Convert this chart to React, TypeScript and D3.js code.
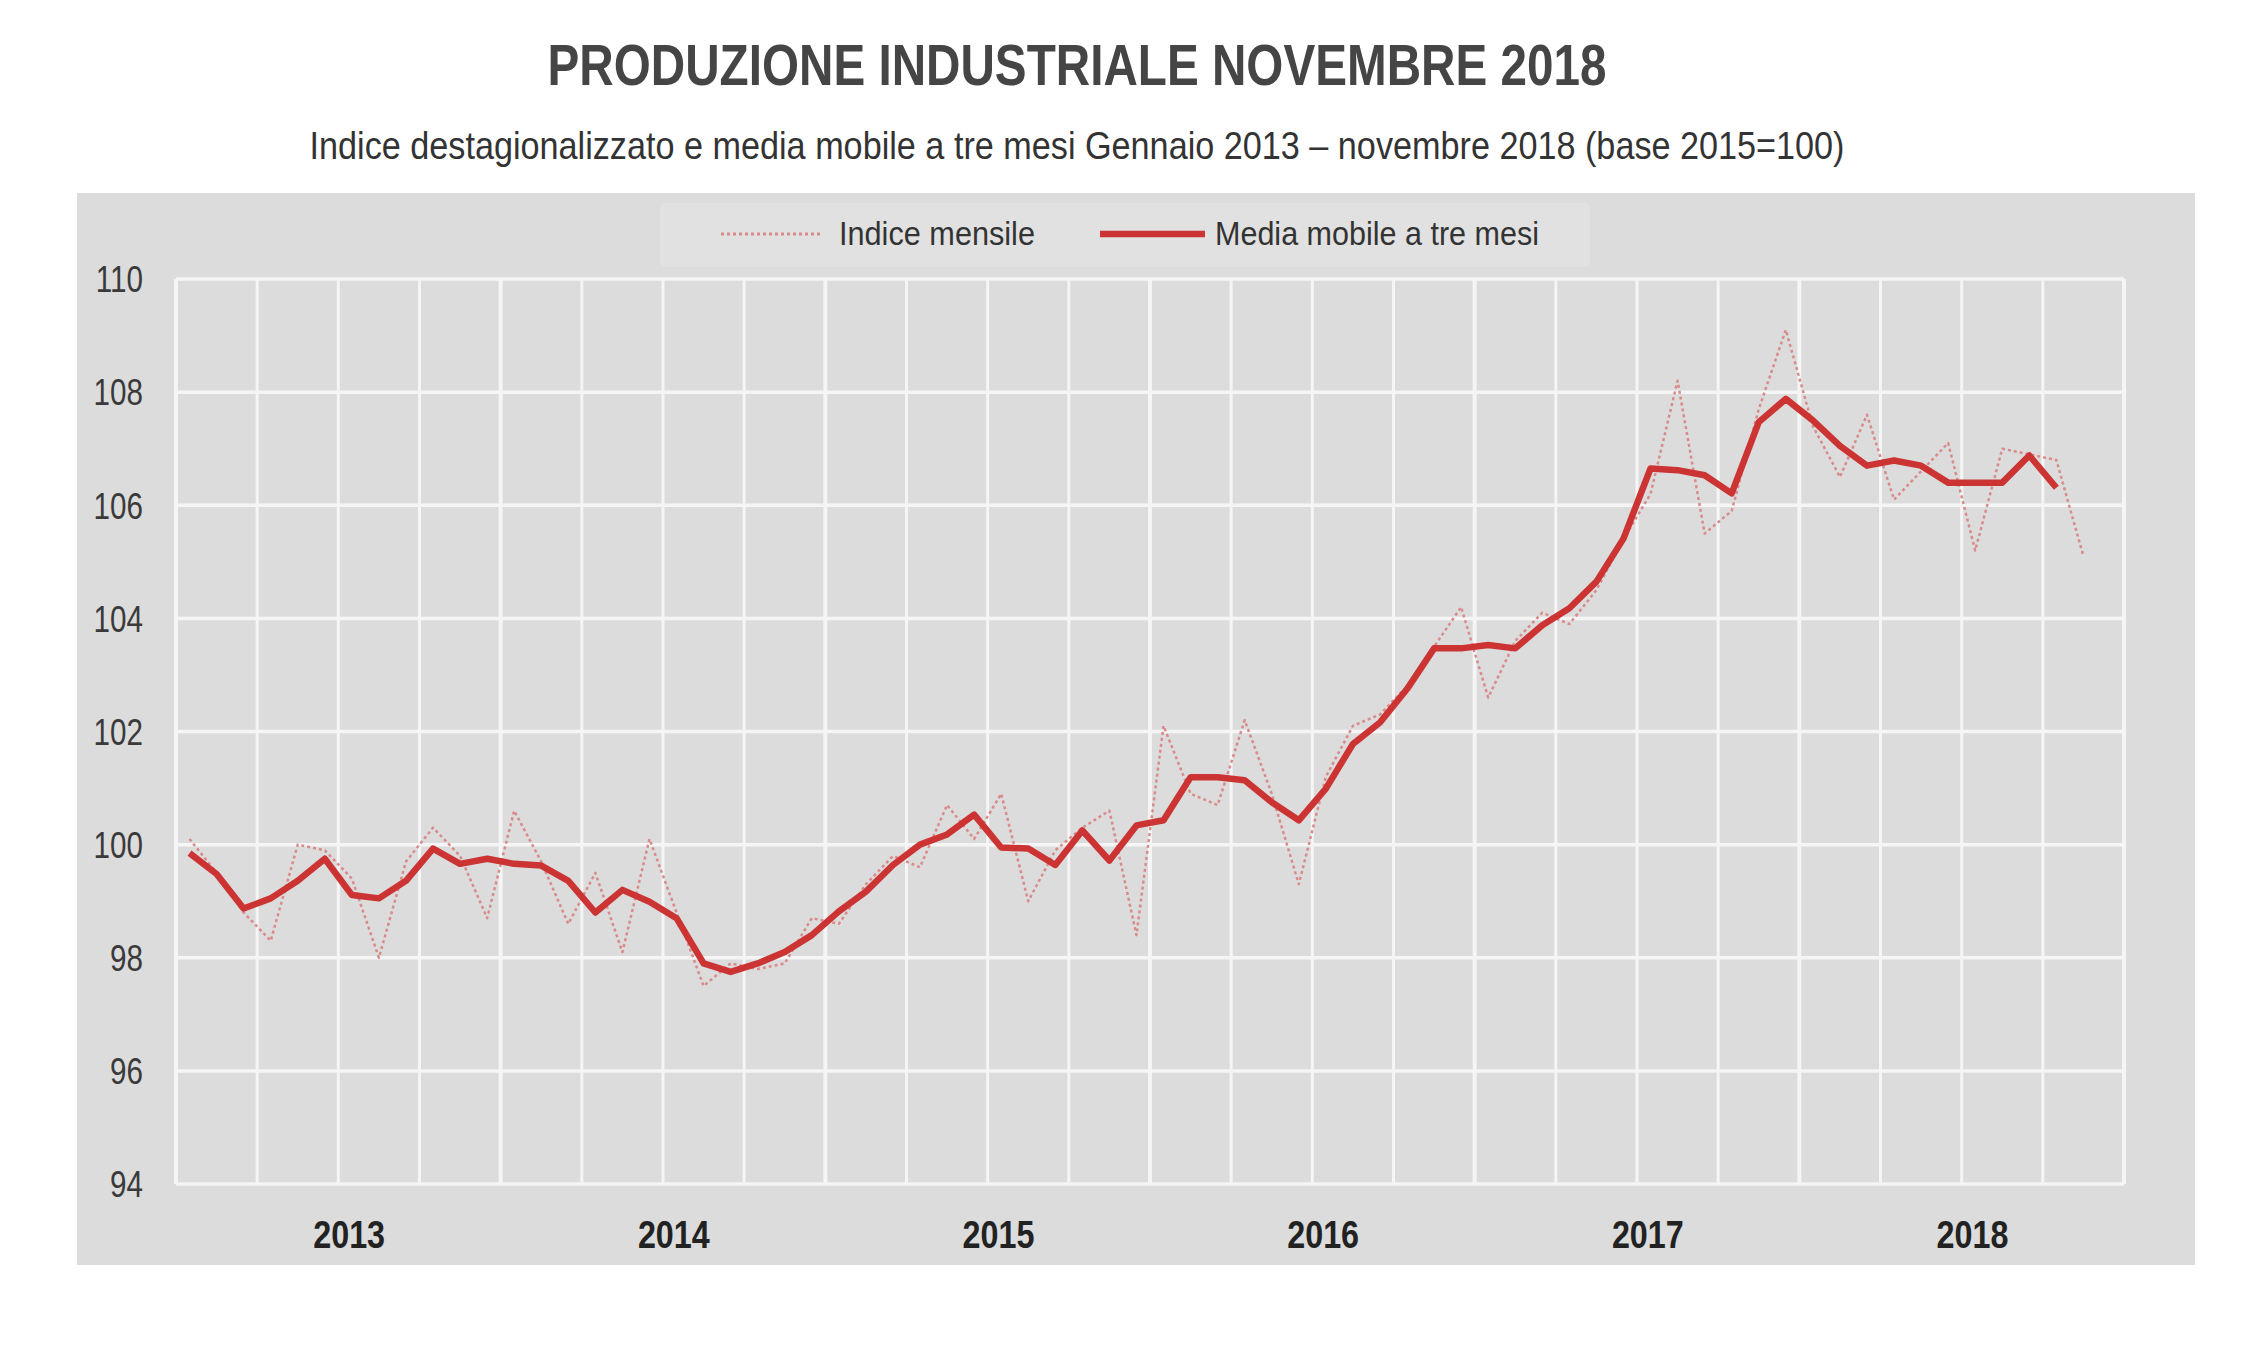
import * as d3 from 'd3';

// Indice destagionalizzato, gen 2013 - nov 2018 (base 2015=100)
const indiceMensile = [
  100.1, 99.5, 98.8, 98.3, 100.0, 99.9, 99.4, 98.0, 99.7, 100.3, 99.8, 98.7,
  100.6, 99.7, 98.6, 99.5, 98.1, 100.1, 98.8, 97.5, 97.9, 97.8, 97.9, 98.7,
  98.6, 99.3, 99.8, 99.6, 100.7, 100.1, 100.9, 99.0, 99.9, 100.3, 100.6, 98.4,
  102.1, 100.9, 100.7, 102.2, 100.9, 99.3, 101.2, 102.1, 102.3, 102.8, 103.5, 104.2,
  102.6, 103.6, 104.1, 103.9, 104.5, 105.4, 106.2, 108.2, 105.5, 105.9, 107.7, 109.1,
  107.4, 106.5, 107.6, 106.1, 106.6, 107.1, 105.2, 107.0, 106.9, 106.8, 105.1,
];

// Media mobile a tre mesi, gen 2013 - ott 2018
const mediaMobile = [
  99.85, 99.48, 98.87, 99.05, 99.36, 99.75, 99.11, 99.05, 99.36, 99.93, 99.66, 99.75,
  99.66, 99.63, 99.36, 98.8, 99.2, 98.99, 98.7, 97.9, 97.75, 97.9, 98.1, 98.4,
  98.82, 99.17, 99.64, 100.0, 100.18, 100.53, 99.95, 99.93, 99.64, 100.25, 99.72, 100.34,
  100.43, 101.19, 101.19, 101.14, 100.75, 100.43, 100.99, 101.78, 102.16, 102.75, 103.47, 103.47,
  103.53, 103.47, 103.88, 104.18, 104.65, 105.41, 106.65, 106.62, 106.53, 106.21, 107.47, 107.88,
  107.5, 107.05, 106.7, 106.79, 106.7, 106.4, 106.4, 106.4, 106.88, 106.31,
];

const years = ['2013', '2014', '2015', '2016', '2017', '2018'];
const yTicks = [94, 96, 98, 100, 102, 104, 106, 108, 110];
const legendLabels = ['Indice mensile', 'Media mobile a tre mesi'];
const title = 'PRODUZIONE INDUSTRIALE NOVEMBRE 2018';
const subtitle =
  'Indice destagionalizzato e media mobile a tre mesi Gennaio 2013 \u2013 novembre 2018 (base 2015=100)';

const W = 2260;
const H = 1364;
const PLOT = { left: 176, right: 2124, top: 279, bottom: 1184 };
const FONT = '"Liberation Sans Narrow", "Liberation Sans", Arial, sans-serif';
const RED = '#cc3434';
const PINK = '#d98a8a';
const TEXT = '#333333';

export default function App() {
  const months = years.length * 12;
  const x = d3.scaleLinear().domain([0, months]).range([PLOT.left, PLOT.right]);
  const y = d3.scaleLinear().domain([94, 110]).range([PLOT.bottom, PLOT.top]);

  const line = d3
    .line<number>()
    .x((_d, i) => x(i + 0.5))
    .y((d) => y(d));

  const quarters = d3.range(0, months + 1, 3);

  return (
    <svg
      width={W}
      height={H}
      viewBox={`0 0 ${W} ${H}`}
      style={{ position: 'absolute', left: 0, top: 0, background: '#fff' }}
      fontFamily={FONT}
    >
      <text
        x={1077}
        y={85}
        textAnchor="middle"
        fontSize={58}
        fontWeight="bold"
        fill="#454545"
        textLength={1059}
        lengthAdjust="spacingAndGlyphs"
      >
        {title}
      </text>
      <text
        x={1077}
        y={159}
        textAnchor="middle"
        fontSize={39}
        fill={TEXT}
        textLength={1535}
        lengthAdjust="spacingAndGlyphs"
      >
        {subtitle}
      </text>

      {/* pannello grigio */}
      <rect x={77} y={193} width={2118} height={1072} fill="#dcdcdc" />

      {/* legenda */}
      <rect x={660} y={203} width={930} height={64} rx={6} fill="#e1e1e1" />
      <line x1={721} x2={822} y1={234} y2={234} stroke={PINK} strokeWidth={3} strokeDasharray="3,3" />
      <text
        x={839}
        y={245}
        fontSize={34}
        fill={TEXT}
        textLength={196}
        lengthAdjust="spacingAndGlyphs"
      >
        {legendLabels[0]}
      </text>
      <line x1={1100} x2={1205} y1={234} y2={234} stroke={RED} strokeWidth={6.5} />
      <text
        x={1215}
        y={245}
        fontSize={34}
        fill={TEXT}
        textLength={324}
        lengthAdjust="spacingAndGlyphs"
      >
        {legendLabels[1]}
      </text>

      {/* griglia */}
      <g stroke="#f5f5f5">
        {yTicks.map((t) => (
          <line key={`h${t}`} x1={PLOT.left} x2={PLOT.right} y1={y(t)} y2={y(t)} strokeWidth={3.5} />
        ))}
        {quarters.map((q) => (
          <line
            key={`v${q}`}
            x1={x(q)}
            x2={x(q)}
            y1={PLOT.top}
            y2={PLOT.bottom}
            strokeWidth={q % 12 === 0 ? 4 : 3}
          />
        ))}
      </g>

      {/* etichette asse y */}
      <g fontSize={37} fill="#3a3a3a" textAnchor="end">
        {yTicks.map((t) => (
          <text key={t} transform={`translate(143, ${y(t)}) scale(0.8, 1)`} dy="0.36em">
            {t}
          </text>
        ))}
      </g>

      {/* etichette anni */}
      <g fontSize={38} fontWeight="bold" fill="#222" textAnchor="middle">
        {years.map((yr, i) => (
          <text key={yr} transform={`translate(${x(i * 12 + 6.4)}, 1248) scale(0.85, 1)`}>
            {yr}
          </text>
        ))}
      </g>

      {/* serie */}
      <path
        d={line(indiceMensile) ?? ''}
        fill="none"
        stroke={PINK}
        strokeWidth={2.5}
        strokeDasharray="3,3"
        strokeLinejoin="round"
      />
      <path
        d={line(mediaMobile) ?? ''}
        fill="none"
        stroke={RED}
        strokeWidth={6.5}
        strokeLinejoin="round"
      />
    </svg>
  );
}
